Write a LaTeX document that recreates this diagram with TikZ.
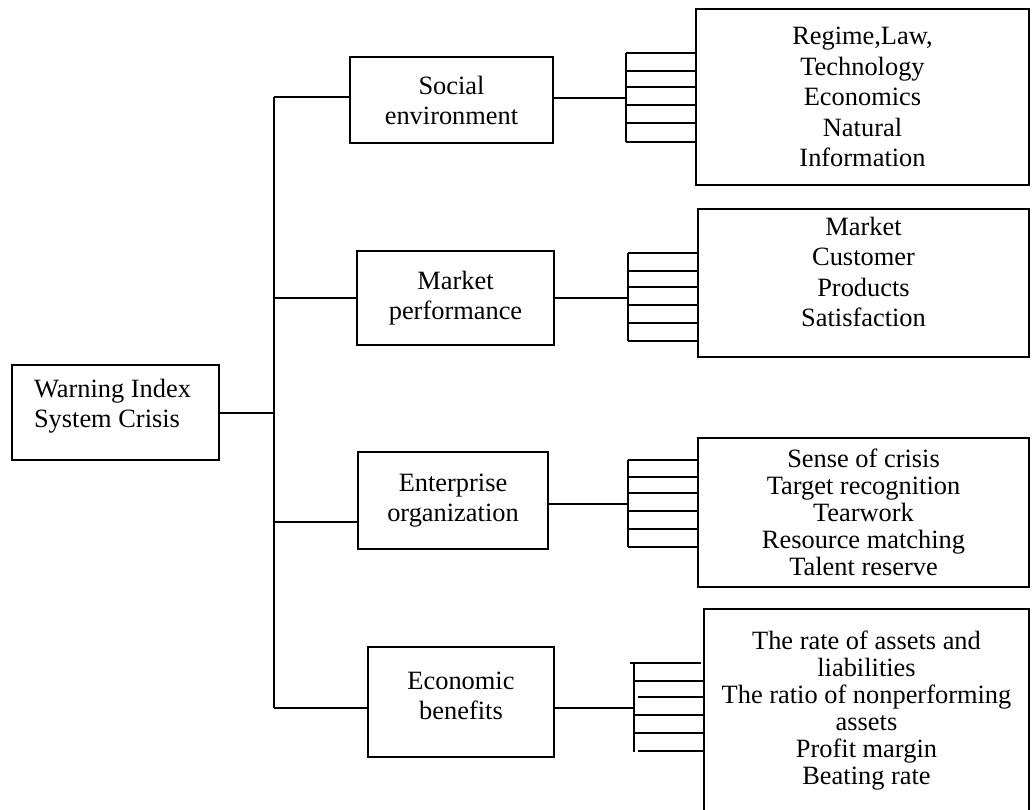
\documentclass[tikz,border=0pt]{standalone}
\usepackage{fontspec}
\setmainfont{Liberation Serif}
\usetikzlibrary{positioning}
\tikzset{
	box/.style={draw, line width=1.8pt, inner sep=0pt},
	txt/.style={font=\fontsize{26.4}{30}\selectfont, align=center, inner sep=0pt},
	itemtxt/.style={font=\fontsize{26.4}{30.5}\selectfont, align=center, inner sep=0pt},
	tighttxt/.style={font=\fontsize{26.4}{27}\selectfont, align=center, inner sep=0pt}
}
\begin{document}
\begin{tikzpicture}[x=1pt, y=-1pt, line width=1.8pt]
	\useasboundingbox (0,0) rectangle (1032,809);
	% Wurzel
	\node[box, minimum width=207pt, minimum height=95pt] (warn) at (115.5,412.5) {};
	\node[txt, align=left] (warnTxt) at (112.5,406) {Warning Index\\System Crisis};

	% Kategorien
	\node[box, minimum width=203pt, minimum height=86pt] (social) at (451.5,100) {};
	\node[txt] (socialTxt) at (social.center) {Social\\environment};
	\node[box, minimum width=197pt, minimum height=94pt] (market) at (455.5,298) {};
	\node[txt] (marketTxt) at (market.center) {Market\\performance};
	\node[box, minimum width=190pt, minimum height=97pt] (enterprise) at (453,500.5) {};
	\node[txt] (enterpriseTxt) at (enterprise.center) {Enterprise\\organization};
	\node[box, minimum width=186pt, minimum height=110pt] (economic) at (461,702) {};
	\node[txt] (economicTxt) at (461,696) {Economic\\benefits};

	% Indexlisten
	\node[box, minimum width=333pt, minimum height=176pt] (socialList) at (862.5,97) {};
	\node[itemtxt] (socialItems) at (socialList.center) {Regime,Law,\\Technology\\Economics\\Natural\\Information};
	\node[box, minimum width=331pt, minimum height=148pt] (marketList) at (863.5,283) {};
	\node[itemtxt] (marketItems) at (863.5,272) {Market\\Customer\\Products\\Satisfaction};
	\node[box, minimum width=331pt, minimum height=149pt] (enterpriseList) at (863.5,512.5) {};
	\node[tighttxt] (enterpriseItems) at (enterpriseList.center) {Sense of crisis\\Target recognition\\Tearwork\\Resource matching\\Talent reserve};
	\node[box, minimum width=325pt, minimum height=221pt] (economicList) at (866.5,719.5) {};
	\node[tighttxt] (economicItems) at (866.5,711) {The rate of assets and\\liabilities\\The ratio of nonperforming\\assets\\Profit margin\\Beating rate};

	% Stamm
	\coordinate (trunkTop) at (274,97);
	\coordinate (trunkBot) at (274,708);
	\coordinate (warnJoin) at (274,413);
	\coordinate (enterpriseJoin) at (274,522);
	\draw (warnJoin) -- (warnJoin -| warn.east);
	\draw (trunkTop) -- (trunkBot);
	\draw (trunkTop) -- (trunkTop -| social.west);
	\draw (market.west) -- (market.west -| trunkTop);
	\draw (enterpriseJoin) -- (enterpriseJoin -| enterprise.west);
	\draw (trunkBot) -- (trunkBot -| economic.west);

	% Kaemme
	\foreach \nm/\cx/\cy/\ya/\yb/\rungs in {social/626/98/53/142/{53,71,87,105,123,142},
			market/628/298/253/341/{253,271,287,305,323,341},
			enterprise/628/504/460/547/{460,477,493,511,529,547}}{
		\coordinate (\nm Hub) at (\cx,\cy);
		\draw (\nm Hub) -- (\nm Hub -| \nm.east);
		\draw (\cx,\ya) -- (\cx,\yb);
		\foreach \y in \rungs{
			\coordinate (rung) at (\cx,\y);
			\draw (rung) -- (rung -| \nm List.west);
		}
	}
	\coordinate (economicHub) at (634,708);
	\draw (economicHub) -- (economicHub -| economic.east);
	\draw (634,663) -- (634,752);
	\draw (630,663) -- (701,663);
	\foreach \y/\xa in {681/634, 697/638, 715/634, 733/634, 751/638}{
		\coordinate (rung) at (\xa,\y);
		\draw (rung) -- (rung -| economicList.west);
	}
\end{tikzpicture}
\end{document}
